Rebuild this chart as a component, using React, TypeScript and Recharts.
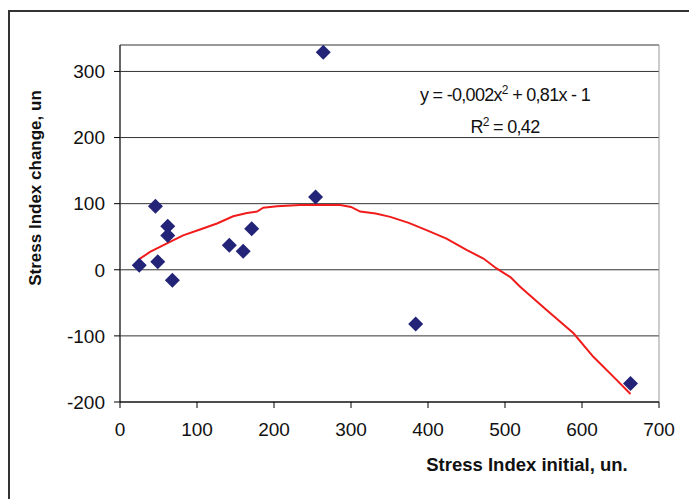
import React from "react";
import {
  CartesianGrid,
  ReferenceArea,
  Scatter,
  ScatterChart,
  XAxis,
  YAxis
} from "recharts";

// measured points (Stress Index initial, change)
const initialValues = [25, 46, 49, 62, 62, 68, 142, 160, 171, 254, 264, 384, 663];
const changeValues = [7, 96, 12, 66, 52, -16, 37, 28, 62, 110, 329, -82, -172];

// polynomial trend line
const trendX = [25, 39, 61, 82, 104, 126, 147, 165, 178, 186, 204, 234, 286, 300, 312, 332, 351, 375, 398, 424, 450, 472, 489, 507, 520, 554, 589, 615, 641, 663];
const trendY = [16, 27, 40, 52, 61, 70, 81, 86, 88, 94, 96, 98, 98, 95, 88, 85, 80, 71, 60, 47, 30, 17, 2, -11, -26, -61, -96, -132, -162, -188];

const xTicks = [0, 100, 200, 300, 400, 500, 600, 700];
const yTicks = [-200, -100, 0, 100, 200, 300];

const points = initialValues.map((x, i) => ({ x, y: changeValues[i] }));
const trend = trendX.map((x, i) => ({ x, y: trendY[i] }));

const FONT = "'Liberation Sans', Arial, sans-serif";

function Diamond(props: any) {
  const { cx, cy } = props;
  const r = 7.5;
  return (
    <polygon
      points={`${cx},${cy - r} ${cx + r},${cy} ${cx},${cy + r} ${cx - r},${cy}`}
      fill="#232377"
    />
  );
}

export default function App() {
  return (
    <div style={{ position: "fixed", left: 0, top: 0, width: 689, height: 499, background: "#fff", overflow: "hidden", fontFamily: FONT }}>
      <div
        style={{
          position: "absolute",
          left: 8,
          top: 10,
          width: 720,
          height: 520,
          borderLeft: "2px solid #333",
          borderTop: "2px solid #333"
        }}
      />
      <div style={{ position: "absolute", left: 0, top: 0 }}>
        <ScatterChart width={689} height={499} margin={{ top: 45, right: 30, bottom: 37, left: 20 }}>
          <CartesianGrid horizontal vertical={false} stroke="#333" strokeWidth={1} />
          <ReferenceArea x1={0} x2={700} y1={-200} y2={340} fill="none" stroke="#999" strokeWidth={1} />
          <XAxis
            type="number"
            dataKey="x"
            domain={[0, 700]}
            ticks={xTicks}
            height={60}
            tickSize={6}
            tickMargin={15}
            axisLine={{ stroke: "#000" }}
            tickLine={{ stroke: "#000" }}
            tick={{ fill: "#111", fontSize: 19, fontFamily: FONT }}
            allowDataOverflow
          />
          <YAxis
            type="number"
            dataKey="y"
            domain={[-200, 340]}
            ticks={yTicks}
            width={100}
            tickSize={6}
            tickMargin={9}
            axisLine={{ stroke: "#000" }}
            tickLine={{ stroke: "#000" }}
            tick={{ fill: "#111", fontSize: 19, fontFamily: FONT }}
            allowDataOverflow
          />
          <Scatter
            data={trend}
            line={{ stroke: "#f01c1c", strokeWidth: 2 }}
            lineType="joint"
            shape={() => null}
            isAnimationActive={false}
          />
          <Scatter data={points} shape={Diamond} isAnimationActive={false} />
        </ScatterChart>
      </div>
      <div
        style={{
          position: "absolute",
          left: 36,
          top: 188,
          transform: "translate(-50%, -50%) rotate(-90deg)",
          whiteSpace: "nowrap",
          fontWeight: "bold",
          fontSize: 17,
          color: "#111"
        }}
      >
        Stress Index change, un
      </div>
      <div
        style={{
          position: "absolute",
          left: 527,
          top: 465,
          transform: "translate(-50%, -50%)",
          whiteSpace: "nowrap",
          fontWeight: "bold",
          fontSize: 18.5,
          color: "#111"
        }}
      >
        Stress Index initial, un.
      </div>
      <div
        style={{
          position: "absolute",
          left: 505,
          top: 109,
          transform: "translate(-50%, -50%)",
          whiteSpace: "nowrap",
          fontSize: 18,
          letterSpacing: -0.7,
          lineHeight: "27px",
          textAlign: "center",
          color: "#111"
        }}
      >
        <div>y = -0,002x<sup style={{ fontSize: 12 }}>2</sup> + 0,81x - 1</div>
        <div>R<sup style={{ fontSize: 12 }}>2</sup> = 0,42</div>
      </div>
    </div>
  );
}
